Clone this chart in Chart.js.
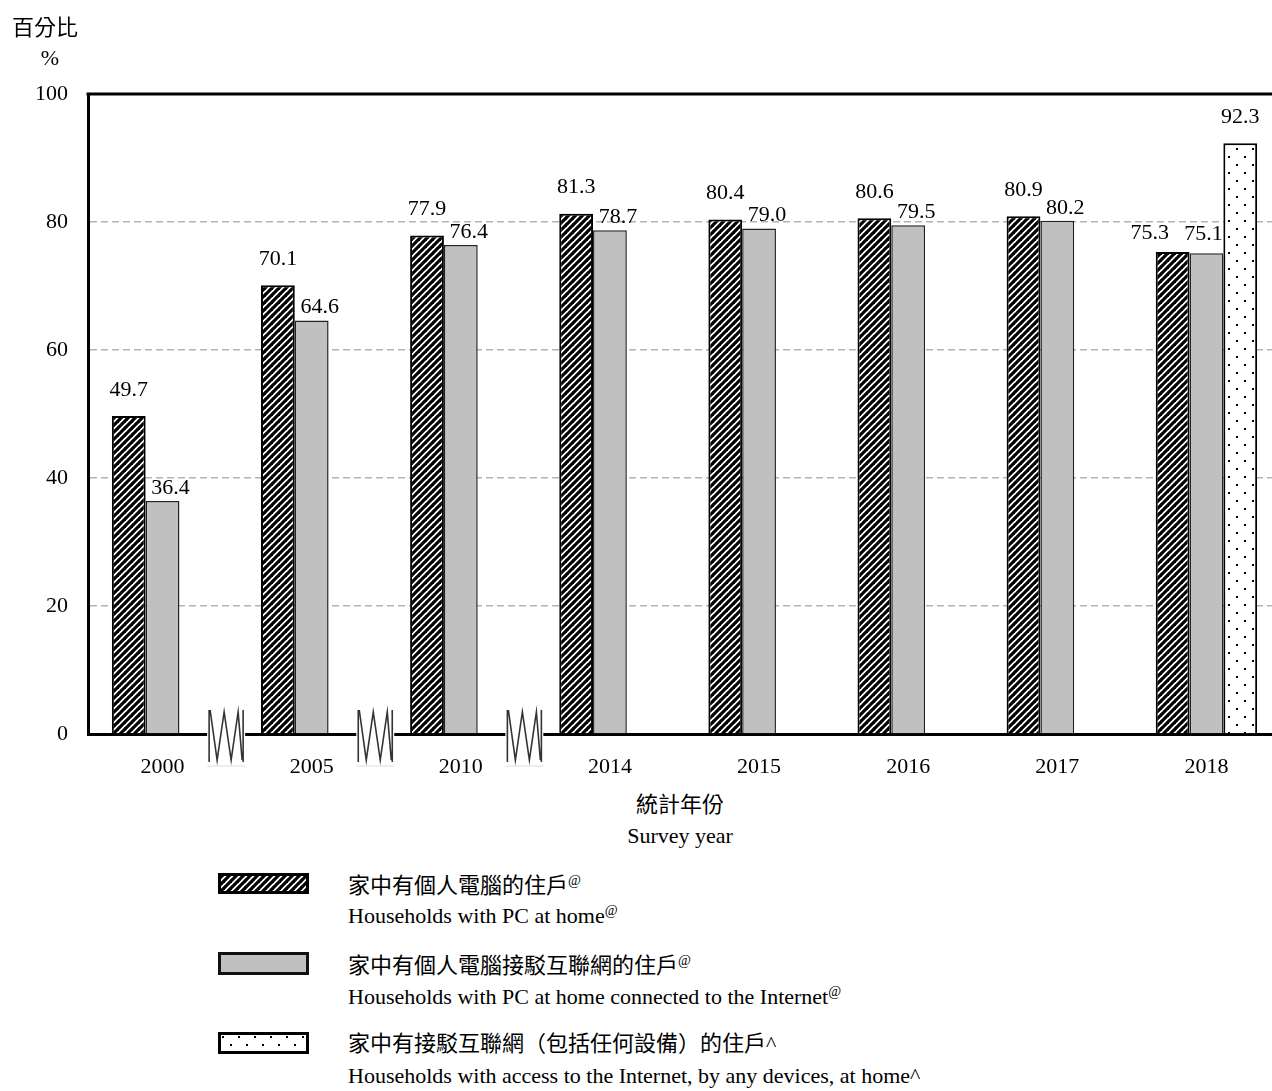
<!DOCTYPE html>
<html>
<head>
<meta charset="utf-8">
<script src="https://cdn.jsdelivr.net/npm/chart.js@4"></script>
<style>
  body { margin: 0; width: 1272px; height: 1091px; overflow: hidden; background: #fff;
         font-family: "Liberation Serif", "Noto Sans CJK TC", serif; color: #000; }
  #wrap { position: absolute; left: 0; top: 0; width: 1290px; height: 790px; }
  .txt { position: absolute; font-size: 22px; line-height: 26px; white-space: nowrap; }
  .ctr { transform: translateX(-50%); text-align: center; }
  sup { font-size: 14px; vertical-align: 8px; line-height: 0; }
  .patch { position: absolute; }
</style>
</head>
<body>
<div id="wrap"><canvas id="chart" width="1290" height="790"></canvas></div>

<div class="txt" style="left:12px;top:15px;">百分比</div>
<div class="txt ctr" style="left:50px;top:45px;">%</div>

<div class="txt ctr" style="left:680px;top:792px;">統計年份</div>
<div class="txt ctr" style="left:680px;top:823px;">Survey year</div>

<canvas class="patch" id="lg0" width="91" height="21" style="left:218px;top:873px;"></canvas>
<div class="txt" style="left:348px;top:873px;">家中有個人電腦的住戶<sup>@</sup></div>
<div class="txt" style="left:348px;top:903px;">Households with PC at home<sup>@</sup></div>

<canvas class="patch" id="lg1" width="91" height="23" style="left:218px;top:952px;"></canvas>
<div class="txt" style="left:348px;top:953px;">家中有個人電腦接駁互聯網的住戶<sup>@</sup></div>
<div class="txt" style="left:348px;top:984px;">Households with PC at home connected to the Internet<sup>@</sup></div>

<canvas class="patch" id="lg2" width="91" height="22" style="left:218px;top:1032px;"></canvas>
<div class="txt" style="left:348px;top:1031px;">家中有接駁互聯網（包括任何設備）的住戶^</div>
<div class="txt" style="left:348px;top:1063px;">Households with access to the Internet, by any devices, at home^</div>

<script>
// data
const years = ['2000', '2005', '2010', '2014', '2015', '2016', '2017', '2018'];
const pcHome = [49.7, 70.1, 77.9, 81.3, 80.4, 80.6, 80.9, 75.3];
const pcInternet = [36.4, 64.6, 76.4, 78.7, 79.0, 79.5, 80.2, 75.1];
const anyDevice = [null, null, null, null, null, null, null, 92.3];
const yTicks = [0, 20, 40, 60, 80, 100];
// axis breaks after these category indexes
const breaksAfter = [0, 1, 2];

const FONT = '"Liberation Serif", "Noto Sans CJK TC", serif';

function hatchPattern() {
    const c = document.createElement('canvas');
    c.width = 7; c.height = 7;
    const g = c.getContext('2d');
    g.fillStyle = '#fff';
    g.fillRect(0, 0, 7, 7);
    g.strokeStyle = '#000';
    g.lineWidth = 3.2;
    for (let k = -7; k <= 7; k += 7) {
        g.beginPath();
        g.moveTo(k - 1, 8);
        g.lineTo(k + 8, -1);
        g.stroke();
    }
    return g.createPattern(c, 'repeat');
}

function dotPattern() {
    const c = document.createElement('canvas');
    c.width = 16; c.height = 16;
    const g = c.getContext('2d');
    g.fillStyle = '#fff';
    g.fillRect(0, 0, 16, 16);
    g.fillStyle = '#000';
    g.fillRect(4, 4, 2, 2);
    g.fillRect(12, 12, 2, 2);
    return g.createPattern(c, 'repeat');
}

const hatch = hatchPattern();
const dots = dotPattern();
const GRAY = '#c0c0c0';

// legend patches
function paintPatch(id, fill, border) {
    const c = document.getElementById(id);
    const g = c.getContext('2d');
    g.fillStyle = fill;
    g.fillRect(0, 0, c.width, c.height);
    g.strokeStyle = border;
    g.lineWidth = 3;
    g.strokeRect(1.5, 1.5, c.width - 3, c.height - 3);
}
paintPatch('lg0', hatch, '#000');
paintPatch('lg1', GRAY, '#111');
paintPatch('lg2', dots, '#000');

// value labels above bars
const valueLabels = {
    id: 'valueLabels',
    afterDatasetsDraw(chart) {
        const ctx = chart.ctx;
        ctx.save();
        ctx.font = '22px ' + FONT;
        ctx.fillStyle = '#000';
        ctx.textAlign = 'center';
        ctx.textBaseline = 'middle';
        chart.data.datasets.forEach((ds, di) => {
            const meta = chart.getDatasetMeta(di);
            meta.data.forEach((bar, i) => {
                const v = ds.data[i];
                if (v === null) return;
                let dx = 0, dy = 26;
                if (di === 1) { dx = 8; dy = 13; }
                if (di === 2) { dy = 26; }
                // last group is crowded: labels pushed left
                if (anyDevice[i] !== null && di === 0) { dx = -23; dy = 19; }
                if (anyDevice[i] !== null && di === 1) { dx = -3; dy = 19; }
                ctx.fillText(v.toFixed(1), bar.x + dx, bar.y - dy);
            });
        });
        ctx.restore();
    }
};

// frame top line and the axis break marks
const frameAndBreaks = {
    id: 'frameAndBreaks',
    afterDraw(chart) {
        const ctx = chart.ctx;
        const a = chart.chartArea;
        const x = chart.scales.x;
        ctx.save();
        ctx.strokeStyle = '#000';
        ctx.lineWidth = 3;
        ctx.beginPath();
        ctx.moveTo(a.left - 1.5, a.top);
        ctx.lineTo(a.right, a.top);
        ctx.stroke();

        breaksAfter.forEach(i => {
            const c = (x.getPixelForValue(i) + x.getPixelForValue(i + 1)) / 2 - 11;
            const y0 = a.bottom - 24, y1 = a.bottom + 32;
            ctx.fillStyle = '#fff';
            ctx.fillRect(c - 19, y0 - 4, 38, y1 - y0 + 4);
            ctx.strokeStyle = '#ddd';
            ctx.lineWidth = 1;
            ctx.beginPath();
            ctx.moveTo(c - 19, y1);
            ctx.lineTo(c + 19, y1);
            ctx.stroke();
            ctx.strokeStyle = '#333';
            ctx.lineWidth = 1.6;
            ctx.beginPath();
            ctx.moveTo(c - 17, y0);
            ctx.lineTo(c - 17, y1 - 4);
            ctx.moveTo(c - 16, y0);
            ctx.lineTo(c - 9, y1 - 6);
            ctx.lineTo(c - 2, y0 + 2);
            ctx.lineTo(c + 5, y1 - 6);
            ctx.lineTo(c + 12, y0 + 2);
            ctx.lineTo(c + 16, y1 - 6);
            ctx.moveTo(c + 17, y0);
            ctx.lineTo(c + 17, y1 - 4);
            ctx.stroke();
        });
        ctx.restore();
    }
};

new Chart(document.getElementById('chart'), {
    type: 'bar',
    data: {
        labels: years,
        datasets: [
            { label: '家中有個人電腦的住戶', data: pcHome, backgroundColor: hatch,
              borderColor: '#000', borderWidth: 2 },
            { label: '家中有個人電腦接駁互聯網的住戶', data: pcInternet, backgroundColor: GRAY,
              borderColor: '#222', borderWidth: 1.5 },
            { label: '家中有接駁互聯網（包括任何設備）的住戶', data: anyDevice, backgroundColor: dots,
              borderColor: '#000', borderWidth: 2 }
        ]
    },
    options: {
        responsive: false,
        animation: false,
        devicePixelRatio: 1,
        layout: { padding: { top: 94, right: 9, left: 0, bottom: 0 } },
        categoryPercentage: 0.68,
        barPercentage: 1,
        plugins: {
            legend: { display: false },
            tooltip: { enabled: false }
        },
        scales: {
            x: {
                grid: { display: false, drawTicks: false },
                border: { color: '#000', width: 3 },
                ticks: { color: '#000', font: { family: FONT, size: 22 }, padding: 20 },
                afterFit(s) { s.height = 56; }
            },
            y: {
                min: 0,
                max: 100,
                afterBuildTicks(s) { s.ticks = yTicks.map(v => ({ value: v })); },
                grid: {
                    drawTicks: false,
                    color: c => (c.tick.value === 0 || c.tick.value === 100) ? 'rgba(0,0,0,0)' : '#b4b4b4',
                    lineWidth: 1.5
                },
                // in v4 border.dash sets the dash of the grid lines
                border: { color: '#000', width: 3, dash: [7, 4] },
                ticks: { color: '#000', font: { family: FONT, size: 22 }, padding: 20 },
                afterFit(s) { s.width = 88; }
            }
        }
    },
    plugins: [valueLabels, frameAndBreaks]
});
</script>
</body>
</html>
